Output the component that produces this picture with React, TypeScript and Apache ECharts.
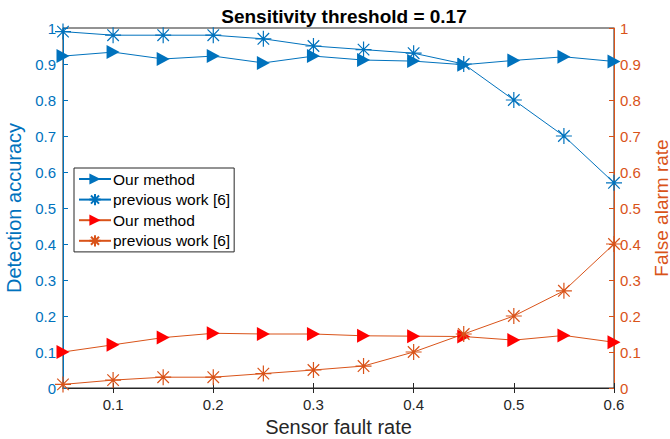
import React, { useEffect, useRef } from "react";
import * as echarts from "echarts";

const faultRates = [0.05, 0.1, 0.15, 0.2, 0.25, 0.3, 0.35, 0.4, 0.45, 0.5, 0.55, 0.6];
const accOurs = [0.922, 0.933, 0.914, 0.922, 0.903, 0.922, 0.911, 0.908, 0.898, 0.91, 0.92, 0.907];
const accPrev = [0.99, 0.98, 0.98, 0.98, 0.97, 0.95, 0.94, 0.93, 0.9, 0.8, 0.7, 0.57];
const farOurs = [0.1, 0.12, 0.14, 0.152, 0.15, 0.15, 0.145, 0.144, 0.143, 0.133, 0.146, 0.127];
const farPrev = [0.01, 0.022, 0.03, 0.03, 0.04, 0.05, 0.061, 0.1, 0.15, 0.2, 0.27, 0.4];
const xTicks = [0.1, 0.2, 0.3, 0.4, 0.5, 0.6];

const legendNames: Record<string, string> = {
  accOurs: "Our method",
  accPrev: "previous work [6]",
  farOurs: "Our method",
  farPrev: "previous work [6]",
};

const BLUE = "#0072BD";
const ORANGE = "#D95319";
const RED = "#FF0000";
const DARK = "#262626";
const FONT = "Liberation Sans, Arial, sans-serif";

const TRI = "path://M0,0L1,0.5L0,1Z";
const STAR = "path://M0,-1L0,1M-1,0L1,0M-0.72,-0.72L0.72,0.72M-0.72,0.72L0.72,-0.72";

const pairs = (ys: number[]) => faultRates.map((x, i) => [x, ys[i]]);

export default function App() {
  const ref = useRef<HTMLDivElement>(null);
  useEffect(() => {
    if (!ref.current) return;
    const chart = echarts.init(ref.current, undefined, { renderer: "svg" });
    const yAxisCommon = {
      type: "value" as const,
      min: 0,
      max: 1,
      interval: 0.1,
      splitLine: { show: false },
      nameLocation: "middle" as const,
    };
    chart.setOption({
      animation: false,
      backgroundColor: "#fff",
      textStyle: { fontFamily: FONT },
      title: {
        text: "Sensitivity threshold = 0.17",
        left: 339,
        top: 2,
        textAlign: "center",
        textStyle: { fontSize: 19, fontWeight: "bold", color: "#000", fontFamily: FONT },
      },
      grid: {
        left: 63,
        right: 56,
        top: 28,
        bottom: 51,
        outerBoundsMode: "none",
        containLabel: false,
        show: true,
        borderColor: DARK,
        borderWidth: 1,
        backgroundColor: "transparent",
      },
      legend: {
        orient: "vertical",
        left: 74,
        top: 168,
        itemWidth: 32,
        itemHeight: 14,
        itemGap: 4.5,
        padding: [3, 4, 3, 4],
        borderColor: DARK,
        borderWidth: 1,
        backgroundColor: "#fff",
        data: ["accOurs", "accPrev", "farOurs", "farPrev"],
        formatter: (n: string) => legendNames[n] ?? n,
        textStyle: { fontSize: 15.5, color: "#000", fontFamily: FONT, padding: [0, 0, 0, -3] },
      },
      xAxis: [
        {
          type: "value",
          min: 0.05,
          max: 0.6,
          position: "bottom",
          name: "Sensor fault rate",
          nameLocation: "middle",
          nameGap: 26,
          nameTextStyle: { fontSize: 20, color: DARK, fontFamily: FONT },
          axisLine: { lineStyle: { color: DARK, width: 1 } },
          axisTick: { show: true, inside: true, length: 5, customValues: xTicks, lineStyle: { color: DARK } },
          axisLabel: { customValues: xTicks, fontSize: 15, color: DARK, margin: 9, fontFamily: FONT },
          splitLine: { show: false },
        },
        {
          type: "value",
          min: 0.05,
          max: 0.6,
          position: "top",
          axisLine: { lineStyle: { color: DARK, width: 1 } },
          axisTick: { show: true, inside: true, length: 5, customValues: xTicks, lineStyle: { color: DARK } },
          axisLabel: { show: false },
          splitLine: { show: false },
        },
      ],
      yAxis: [
        {
          ...yAxisCommon,
          position: "left",
          name: "Detection accuracy",
          nameGap: 35,
          nameTextStyle: { fontSize: 20, color: BLUE, fontFamily: FONT },
          axisLine: { show: true, lineStyle: { color: BLUE, width: 1 } },
          axisTick: { show: true, inside: true, length: 5, lineStyle: { color: BLUE } },
          axisLabel: { fontSize: 15, color: BLUE, margin: 7, fontFamily: FONT },
        },
        {
          ...yAxisCommon,
          position: "right",
          name: "False alarm rate",
          nameGap: 32,
          nameRotate: 90,
          nameTextStyle: { fontSize: 19, color: ORANGE, fontFamily: FONT, lineHeight: 19 },
          axisLine: { show: true, lineStyle: { color: ORANGE, width: 1 } },
          axisTick: { show: true, inside: true, length: 5, lineStyle: { color: ORANGE } },
          axisLabel: { fontSize: 15, color: ORANGE, margin: 6, fontFamily: FONT },
        },
      ],
      series: [
        {
          name: "accOurs",
          type: "line",
          yAxisIndex: 0,
          data: pairs(accOurs),
          symbol: TRI,
          symbolSize: [13, 14],
          lineStyle: { color: BLUE, width: 1 },
          itemStyle: { color: BLUE, borderColor: BLUE, borderWidth: 0 },
          z: 3,
        },
        {
          name: "accPrev",
          type: "line",
          yAxisIndex: 0,
          data: pairs(accPrev),
          symbol: STAR,
          symbolSize: 16,
          lineStyle: { color: BLUE, width: 1 },
          itemStyle: { color: "none", borderColor: BLUE, borderWidth: 1.2 },
          z: 3,
        },
        {
          name: "farOurs",
          type: "line",
          yAxisIndex: 1,
          data: pairs(farOurs),
          symbol: TRI,
          symbolSize: [13, 14],
          lineStyle: { color: ORANGE, width: 1 },
          itemStyle: { color: RED, borderColor: RED, borderWidth: 0 },
          z: 3,
        },
        {
          name: "farPrev",
          type: "line",
          yAxisIndex: 1,
          data: pairs(farPrev),
          symbol: STAR,
          symbolSize: 16,
          lineStyle: { color: ORANGE, width: 1 },
          itemStyle: { color: "none", borderColor: ORANGE, borderWidth: 1.2 },
          z: 3,
        },
      ],
    });
    return () => chart.dispose();
  }, []);
  return <div ref={ref} style={{ width: 670, height: 439, position: "absolute", left: 0, top: 0 }} />;
}
